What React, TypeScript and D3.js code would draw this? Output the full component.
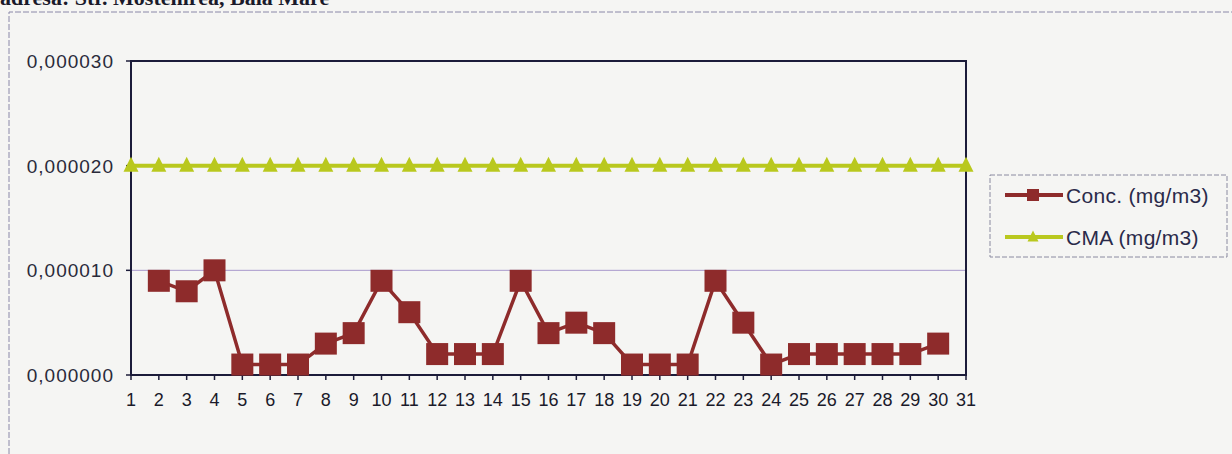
import React from 'react';
import * as d3 from 'd3';

const days = d3.range(1, 32);
// values in mg/m3; null = no measurement
const conc: (number | null)[] = [
  null, 0.000009, 0.000008, 0.00001, 0.000001, 0.000001, 0.000001, 0.000003, 0.000004, 0.000009,
  0.000006, 0.000002, 0.000002, 0.000002, 0.000009, 0.000004, 0.000005, 0.000004, 0.000001, 0.000001,
  0.000001, 0.000009, 0.000005, 0.000001, 0.000002, 0.000002, 0.000002, 0.000002, 0.000002, 0.000003,
  null,
];
const cma: number[] = days.map(() => 0.00002);
const yTicks = [0, 0.00001, 0.00002, 0.00003];
const yLabels = ['0,000000', '0,000010', '0,000020', '0,000030'];
const seriesNames = ['Conc. (mg/m3)', 'CMA (mg/m3)'];

const W = 1232;
const H = 454;
const plot = { left: 131, right: 966, top: 61, bottom: 375 };
const concColor = '#8e2b2b';
const cmaColor = '#b9c81e';
const font = 'Arial, "Liberation Sans", sans-serif';

export default function App() {
  const x = d3.scaleLinear().domain([1, 31]).range([plot.left, plot.right]);
  const y = d3.scaleLinear().domain([0, 0.00003]).range([plot.bottom, plot.top]);

  const concLine = d3.line<number | null>()
    .defined((d) => d !== null)
    .x((_, i) => x(days[i]))
    .y((d) => y(d as number));
  const cmaLine = d3.line<number>()
    .x((_, i) => x(days[i]))
    .y((d) => y(d));

  const tri = (cx: number, cy: number, s: number) =>
    `M${cx},${cy - s * 0.6}L${cx + s / 2},${cy + s * 0.4}L${cx - s / 2},${cy + s * 0.4}Z`;

  const legX = 990;
  const legY = 175;

  return (
    <svg width={W} height={H} style={{ position: 'absolute', left: 0, top: 0, background: '#f5f5f3' }}>
      {/* header, cut off at the top as in the scan */}
      <text x={0} y={5} fontFamily='"Liberation Serif", "Times New Roman", serif' fontWeight="bold"
        fontSize={22} fill="#1a1a2a">adresa: Str. Mostenirea, Baia Mare</text>

      {/* outer chart border */}
      <path d={`M9,${H}V12H${W}`} fill="none" stroke="#8a88a8" strokeWidth={1} strokeDasharray="6 2" />

      {/* gridlines */}
      {yTicks.slice(1, 3).map((t) => (
        <line key={t} x1={plot.left} x2={plot.right} y1={y(t)} y2={y(t)} stroke="#a898cc" strokeWidth={1} />
      ))}

      {/* plot area border */}
      <rect x={plot.left} y={plot.top} width={plot.right - plot.left} height={plot.bottom - plot.top}
        fill="none" stroke="#1c1c3a" strokeWidth={2} />

      {/* y axis ticks + labels */}
      {yTicks.map((t, i) => (
        <g key={t}>
          <line x1={plot.left - 5} x2={plot.left} y1={y(t)} y2={y(t)} stroke="#1c1c3a" strokeWidth={1.5} />
          <text x={114} y={y(t) + 7} textAnchor="end" fontFamily={font} fontSize={19} letterSpacing={1}
            fill="#2a2a3a">{yLabels[i]}</text>
        </g>
      ))}

      {/* x axis ticks + labels */}
      {days.map((d) => (
        <g key={d}>
          <line x1={x(d)} x2={x(d)} y1={plot.bottom} y2={plot.bottom + 5} stroke="#1c1c3a" strokeWidth={1.5} />
          <text x={x(d)} y={plot.bottom + 31} textAnchor="middle" fontFamily={font} fontSize={18}
            fill="#1a1a2a">{d}</text>
        </g>
      ))}

      {/* CMA series */}
      <path d={cmaLine(cma) || ''} fill="none" stroke={cmaColor} strokeWidth={4} />
      {cma.map((v, i) => (
        <path key={i} d={tri(x(days[i]), y(v), 15)} fill={cmaColor} />
      ))}

      {/* Conc series */}
      <path d={concLine(conc) || ''} fill="none" stroke={concColor} strokeWidth={3.5} />
      {conc.map((v, i) =>
        v === null ? null : (
          <rect key={i} x={x(days[i]) - 11} y={y(v) - 11} width={22} height={22} fill={concColor} />
        )
      )}

      {/* legend */}
      <rect x={legX} y={legY} width={237} height={82} fill="none" stroke="#8a8aa0" strokeWidth={1}
        strokeDasharray="5 2" />
      {seriesNames.map((name, i) => {
        const cy = legY + 20 + i * 42;
        const color = i === 0 ? concColor : cmaColor;
        return (
          <g key={name}>
            <line x1={1005} x2={1063} y1={cy} y2={cy} stroke={color} strokeWidth={4} />
            {i === 0 ? (
              <rect x={1027} y={cy - 6} width={12} height={12} fill={color} />
            ) : (
              <path d={tri(1033, cy, 11)} fill={color} />
            )}
            <text x={1066} y={cy + 8} fontFamily={font} fontSize={21} letterSpacing={0.3}
              fill="#2a2a4a">{name}</text>
          </g>
        );
      })}
    </svg>
  );
}
